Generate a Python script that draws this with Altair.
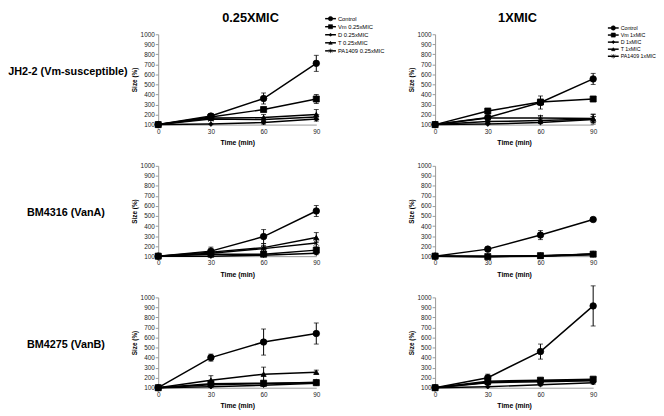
import altair as alt
import pandas as pd

FONT = "Liberation Sans"

times = [0, 30, 60, 90]
series_names = ["Control", "Vm", "D", "T", "PA1409"]
strains = ["JH2-2 (Vm-susceptible)", "BM4316 (VanA)", "BM4275 (VanB)"]
concs = ["0.25XMIC", "1XMIC"]
legend_left = ["Control", "Vm 0.25xMIC", "D 0.25xMIC", "T 0.25xMIC", "PA1409 0.25xMIC"]
legend_right = ["Control", "Vm 1xMIC", "D 1xMIC", "T 1xMIC", "PA1409 1xMIC"]
y_ticks = [100, 200, 300, 400, 500, 600, 700, 800, 900, 1000]

# JH2-2, 0.25xMIC
jh_025_control = [100, 185, 360, 710]
jh_025_control_err = [0, 20, 55, 80]
jh_025_vm = [100, 175, 250, 355]
jh_025_vm_err = [0, 15, 20, 45]
jh_025_d = [100, 105, 120, 155]
jh_025_d_err = [0, 0, 15, 20]
jh_025_t = [100, 165, 170, 200]
jh_025_t_err = [0, 20, 30, 50]
jh_025_pa = [100, 155, 150, 175]
jh_025_pa_err = [0, 0, 20, 25]

# JH2-2, 1xMIC
jh_1_control = [100, 170, 320, 555]
jh_1_control_err = [0, 15, 65, 55]
jh_1_vm = [100, 235, 325, 355]
jh_1_vm_err = [0, 15, 20, 10]
jh_1_d = [100, 105, 120, 150]
jh_1_d_err = [0, 0, 10, 30]
jh_1_t = [100, 130, 140, 155]
jh_1_t_err = [0, 10, 20, 50]
jh_1_pa = [100, 165, 165, 160]
jh_1_pa_err = [0, 10, 25, 40]

# BM4316, 0.25xMIC
bm16_025_control = [100, 150, 295, 550]
bm16_025_control_err = [0, 40, 70, 55]
bm16_025_vm = [100, 120, 120, 160]
bm16_025_vm_err = [0, 10, 15, 25]
bm16_025_d = [100, 100, 110, 130]
bm16_025_d_err = [0, 5, 10, 15]
bm16_025_t = [100, 140, 185, 285]
bm16_025_t_err = [0, 15, 40, 50]
bm16_025_pa = [100, 130, 175, 230]
bm16_025_pa_err = [0, 10, 30, 40]

# BM4316, 1xMIC
bm16_1_control = [100, 170, 310, 465]
bm16_1_control_err = [0, 15, 45, 20]
bm16_1_vm = [100, 95, 105, 120]
bm16_1_vm_err = [0, 5, 5, 10]
bm16_1_d = [100, 100, 100, 115]
bm16_1_d_err = [0, 0, 5, 10]
bm16_1_t = [100, 95, 100, 125]
bm16_1_t_err = [0, 5, 5, 10]
bm16_1_pa = [100, 100, 105, 120]
bm16_1_pa_err = [0, 5, 5, 10]

# BM4275, 0.25xMIC
bm75_025_control = [100, 400, 555, 640]
bm75_025_control_err = [0, 35, 130, 105]
bm75_025_vm = [100, 140, 145, 150]
bm75_025_vm_err = [0, 10, 20, 20]
bm75_025_d = [100, 110, 125, 145]
bm75_025_d_err = [0, 0, 10, 15]
bm75_025_t = [100, 175, 235, 255]
bm75_025_t_err = [0, 45, 70, 20]
bm75_025_pa = [100, 130, 140, 155]
bm75_025_pa_err = [0, 10, 15, 25]

# BM4275, 1xMIC
bm75_1_control = [100, 200, 460, 915]
bm75_1_control_err = [0, 35, 75, 200]
bm75_1_vm = [100, 165, 175, 185]
bm75_1_vm_err = [0, 10, 10, 15]
bm75_1_d = [100, 110, 130, 150]
bm75_1_d_err = [0, 0, 10, 15]
bm75_1_t = [100, 150, 160, 170]
bm75_1_t_err = [0, 10, 15, 15]
bm75_1_pa = [100, 155, 170, 175]
bm75_1_pa_err = [0, 10, 15, 15]

panel_data = {
    (0, 0): [(jh_025_control, jh_025_control_err), (jh_025_vm, jh_025_vm_err), (jh_025_d, jh_025_d_err), (jh_025_t, jh_025_t_err), (jh_025_pa, jh_025_pa_err)],
    (0, 1): [(jh_1_control, jh_1_control_err), (jh_1_vm, jh_1_vm_err), (jh_1_d, jh_1_d_err), (jh_1_t, jh_1_t_err), (jh_1_pa, jh_1_pa_err)],
    (1, 0): [(bm16_025_control, bm16_025_control_err), (bm16_025_vm, bm16_025_vm_err), (bm16_025_d, bm16_025_d_err), (bm16_025_t, bm16_025_t_err), (bm16_025_pa, bm16_025_pa_err)],
    (1, 1): [(bm16_1_control, bm16_1_control_err), (bm16_1_vm, bm16_1_vm_err), (bm16_1_d, bm16_1_d_err), (bm16_1_t, bm16_1_t_err), (bm16_1_pa, bm16_1_pa_err)],
    (2, 0): [(bm75_025_control, bm75_025_control_err), (bm75_025_vm, bm75_025_vm_err), (bm75_025_d, bm75_025_d_err), (bm75_025_t, bm75_025_t_err), (bm75_025_pa, bm75_025_pa_err)],
    (2, 1): [(bm75_1_control, bm75_1_control_err), (bm75_1_vm, bm75_1_vm_err), (bm75_1_d, bm75_1_d_err), (bm75_1_t, bm75_1_t_err), (bm75_1_pa, bm75_1_pa_err)],
}

rows = []
for (ri, ci), series in panel_data.items():
    for name, (vals, errs) in zip(series_names, series):
        for t, v, e in zip(times, vals, errs):
            rows.append(dict(r=ri, c=ci, sname=name, time=t, val=v, err=e, lo=v - e, hi=v + e))
df = pd.DataFrame(rows)

STAR = "M-1,-1L1,1M-1,1L1,-1M0,-1.3L0,1.3"
shape_scale = alt.Scale(domain=series_names, range=["circle", "square", "diamond", "triangle-up", STAR])
ms_expr = ("datum.sname=='Control'?44:datum.sname=='Vm'?38:"
           "datum.sname=='D'?22:datum.sname=='T'?28:28")

W, H = 161, 92


def panel(ri, ci):
    d = df[(df.r == ri) & (df.c == ci)]
    base = alt.Chart(d)
    xs = alt.Scale(domain=[0, 90], nice=False)
    ys = alt.Scale(domain=[100, 1000], nice=False, zero=False)
    xax = alt.Axis(values=times, title="Time (min)", grid=False, ticks=False, tickSize=0,
                   labelFontSize=6.5, labelColor="#222", labelPadding=4, labelFlush=False,
                   titleFontSize=7, titleFontWeight="bold", titleColor="black", titlePadding=4,
                   domainColor="#999", domainWidth=1)
    yax = alt.Axis(values=y_ticks, format="d", title="Size (%)", grid=False, tickSize=3, tickColor="#999",
                   labelFontSize=6.5, labelColor="#222", labelPadding=1, labelOverlap=False,
                   titleFontSize=6.5, titleFontWeight="bold", titleColor="black", titlePadding=3,
                   domainColor="#999", domainWidth=1)
    x = alt.X("time:Q", scale=xs, axis=xax)
    y = alt.Y("val:Q", scale=ys, axis=yax, title="Size (%)")

    eb = base.transform_filter("datum.err > 0").mark_errorbar(
        ticks={"size": 5}, color="black", thickness=1
    ).encode(x=x, y=alt.Y("lo:Q", scale=ys, axis=yax, title="Size (%)"), y2=alt.Y2("hi:Q"))
    lines = base.mark_line(color="black", strokeWidth=1.5).encode(
        x=x, y=y, detail="sname:N", order="time:Q")
    pts = base.transform_calculate(ms=ms_expr).mark_point(
        filled=True, fill="black", stroke="black", strokeWidth=0.8, opacity=1
    ).encode(x=x, y=y,
             shape=alt.Shape("sname:N", scale=shape_scale, legend=None),
             size=alt.Size("ms:Q", scale=None, legend=None))
    layers = [eb, lines, pts]

    if ci == 0:
        ly = [38, 48, 49][ri]
        lab = alt.Chart(pd.DataFrame({"t": [strains[ri]]})).mark_text(
            fontSize=11, fontWeight="bold", align="center", baseline="middle", color="black"
        ).encode(text="t:N", x=alt.value(-92 if ri == 0 else -94), y=alt.value(ly))
        layers.append(lab)

    main = alt.layer(*layers)

    if ri == 0:
        tx = 94 if ci == 0 else 84
        ttl = alt.Chart(pd.DataFrame({"t": [concs[ci]]})).mark_text(
            fontSize=13, fontWeight="bold", align="center", baseline="middle", color="black"
        ).encode(text="t:N", x=alt.value(tx), y=alt.value(-17))
        labels = legend_left if ci == 0 else legend_right
        ld = pd.DataFrame({"idx": list(range(5)), "sname": series_names, "label": labels})
        if ci == 0:
            x0, yr, fs = 170, [-20, 21], 5.9
        else:
            x0, yr, fs = 176, [-10, 26], 5.4
        ly_enc = alt.Y("idx:O", scale=alt.Scale(range=yr, padding=0), axis=None)
        lbase = alt.Chart(ld)
        lrule = lbase.mark_rule(color="black", strokeWidth=1.5).encode(
            x=alt.value(x0), x2=alt.value(x0 + 11), y=ly_enc)
        lpts = lbase.transform_calculate(ms=ms_expr).transform_calculate(
            ms2="datum.ms*0.45").mark_point(
            filled=True, fill="black", stroke="black", strokeWidth=0.6, opacity=1
        ).encode(x=alt.value(x0 + 5.5), y=ly_enc,
                 shape=alt.Shape("sname:N", scale=shape_scale, legend=None),
                 size=alt.Size("ms2:Q", scale=None, legend=None))
        ltxt = lbase.mark_text(fontSize=fs, align="left", baseline="middle", color="black").encode(
            x=alt.value(x0 + 13), y=ly_enc, text="label:N")
        leg = alt.layer(lrule, lpts, ltxt)
        full = alt.layer(main, ttl, leg).resolve_scale(y="independent")
    else:
        full = main
    return full.properties(width=W, height=H)


charts = [panel(ri, ci) for ri in range(3) for ci in range(2)]
chart = alt.concat(
    *charts, columns=2, spacing={"row": 42, "column": 121}, bounds="flush"
).resolve_scale(x="independent", y="independent").properties(
    padding={"left": 0, "top": 0, "right": 0, "bottom": 0}
).configure(font=FONT).configure_view(strokeOpacity=0)

chart.save("out.html", embed_options={"renderer": "svg", "actions": False})
